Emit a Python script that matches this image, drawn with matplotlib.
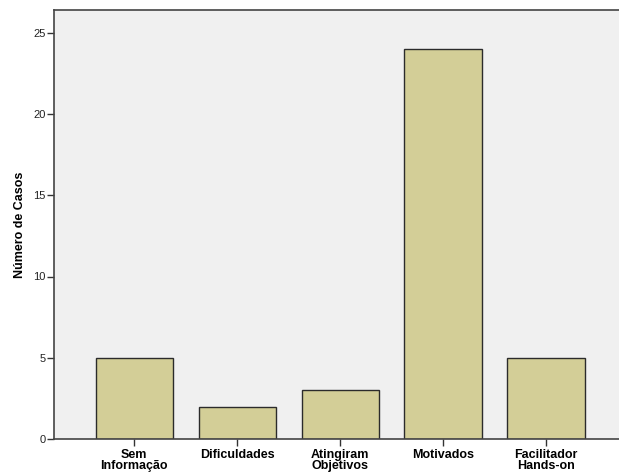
import matplotlib
matplotlib.use("Agg")
import matplotlib.pyplot as plt

categories = ["Sem\nInformação", "Dificuldades", "Atingiram\nObjetivos", "Motivados", "Facilitador\nHands-on"]
casos = [5, 2, 3, 24, 5]

plt.rcParams['font.family'] = ['Liberation Sans', 'DejaVu Sans']

fig = plt.figure(figsize=(6.19, 4.76), dpi=100)
fig.patch.set_facecolor('white')
ax = fig.add_axes([54/619, 37/476, 1 - 54/619, 429/476])
ax.set_facecolor('#f0f0f0')

x = range(len(categories))
ax.bar(x, casos, width=0.75, color='#d3ce97', edgecolor='#2b2b2b', linewidth=1.0, zorder=2)

ax.set_xlim(-0.78, 4.71)
ax.set_ylim(0, 26.4)
ax.set_yticks([0, 5, 10, 15, 20, 25])
ax.set_xticks(list(x))
ax.set_xticklabels(categories, fontweight='bold', fontsize=9, linespacing=0.9)
ax.tick_params(axis='y', labelsize=8, length=5, width=1, color='#333333', labelcolor='#222222', pad=1)
ax.tick_params(axis='x', length=5, width=1, color='#333333', pad=2)
ax.set_ylabel("Número de Casos", fontweight='bold', fontsize=9, labelpad=5)

for s in ['top', 'left', 'bottom']:
    ax.spines[s].set_color('#444444')
    ax.spines[s].set_linewidth(1.2)
ax.spines['right'].set_visible(False)

fig.savefig("out.png", dpi=100)
